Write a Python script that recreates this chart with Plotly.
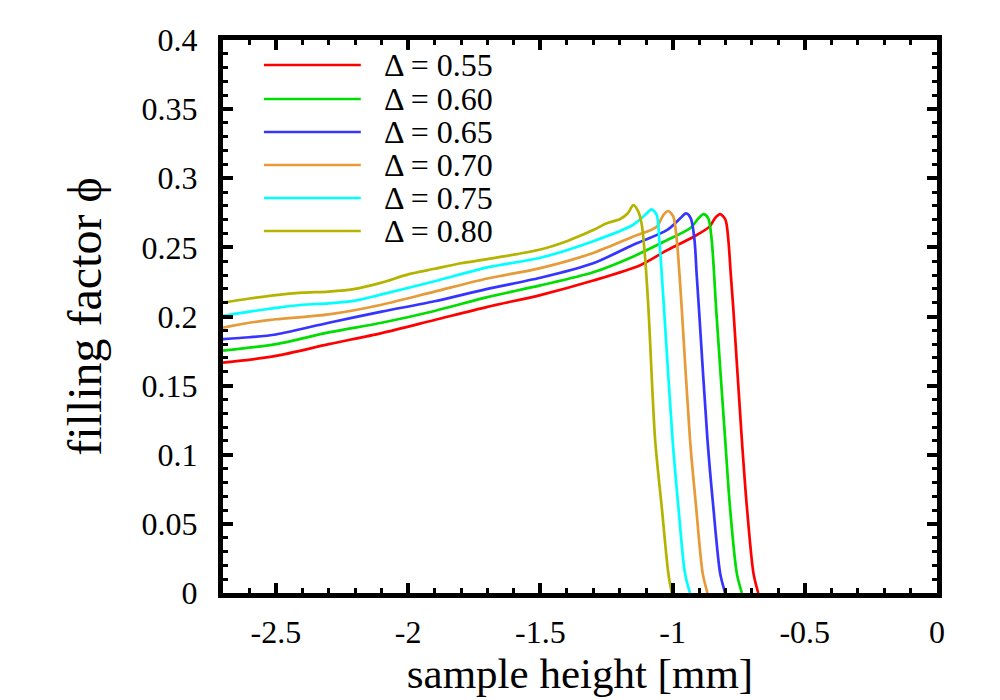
import plotly.graph_objects as go

# filling factor profiles, one per Delta
deltas = ["0.55", "0.60", "0.65", "0.70", "0.75", "0.80"]
colors = ["#ff0000", "#00dd00", "#3535ff", "#e69a38", "#00ffff", "#b4b400"]

x_055 = [-2.7, -2.5, -2.3, -2.1, -1.9, -1.7, -1.5, -1.3, -1.12, -1.02, -0.92, -0.86, -0.84, -0.82,
         -0.80, -0.789, -0.78, -0.77, -0.738, -0.719, -0.694, -0.676]
y_055 = [0.1666, 0.1715, 0.180, 0.188, 0.1975, 0.207, 0.2155, 0.226, 0.2373, 0.248, 0.2577, 0.265,
         0.271, 0.274, 0.270, 0.2553, 0.231, 0.205, 0.111, 0.0624, 0.0142, 0.0]

x_060 = [-2.7, -2.5, -2.3, -2.1, -1.9, -1.7, -1.5, -1.3, -1.15, -1.02, -0.934, -0.902, -0.883,
         -0.865, -0.852, -0.843, -0.835, -0.801, -0.783, -0.757, -0.738]
y_060 = [0.1753, 0.180, 0.1885, 0.1955, 0.204, 0.214, 0.2225, 0.232, 0.2433, 0.2553, 0.2638, 0.271,
         0.274, 0.271, 0.2553, 0.231, 0.205, 0.111, 0.0624, 0.0142, 0.0]

x_065 = [-2.7, -2.6, -2.5, -2.3, -2.1, -1.9, -1.7, -1.5, -1.3, -1.15, -1.02, -0.971, -0.949,
         -0.931, -0.917, -0.909, -0.900, -0.868, -0.846, -0.820, -0.801]
y_065 = [0.1837, 0.185, 0.187, 0.1955, 0.2035, 0.211, 0.220, 0.228, 0.2385, 0.2517, 0.2626, 0.271,
         0.2746, 0.271, 0.2553, 0.231, 0.205, 0.111, 0.0624, 0.0142, 0.0]

x_070 = [-2.7, -2.6, -2.5, -2.3, -2.1, -1.9, -1.7, -1.5, -1.3, -1.15, -1.06, -1.035, -1.016,
         -0.997, -0.984, -0.974, -0.965, -0.934, -0.911, -0.886, -0.868]
y_070 = [0.192, 0.1955, 0.198, 0.2015, 0.2085, 0.218, 0.2275, 0.235, 0.246, 0.2577, 0.265, 0.2734,
         0.2763, 0.2722, 0.2553, 0.231, 0.205, 0.111, 0.0624, 0.0142, 0.0]

x_075 = [-2.7, -2.6, -2.5, -2.4, -2.3, -2.2, -2.1, -1.9, -1.7, -1.5, -1.3, -1.15, -1.104, -1.079,
         -1.06, -1.05, -1.041, -1.032, -1.0, -0.978, -0.953, -0.934]
y_075 = [0.2004, 0.2035, 0.2062, 0.2085, 0.2095, 0.2115, 0.216, 0.2255, 0.2355, 0.2425, 0.2545,
         0.2662, 0.2734, 0.2775, 0.2734, 0.2553, 0.231, 0.205, 0.111, 0.0624, 0.0142, 0.0]

x_080 = [-2.7, -2.6, -2.5, -2.4, -2.3, -2.2, -2.1, -2.0, -1.9, -1.8, -1.7, -1.5, -1.4, -1.3, -1.249,
         -1.198, -1.17, -1.148, -1.13, -1.117, -1.104, -1.091, -1.066, -1.041, -1.016, -1.003]
y_080 = [0.210, 0.213, 0.2155, 0.2172, 0.218, 0.220, 0.2245, 0.2305, 0.2345, 0.2385, 0.2415, 0.2485,
         0.2545, 0.2625, 0.2674, 0.2705, 0.2745, 0.2805, 0.276, 0.267, 0.243, 0.205, 0.111, 0.0624,
         0.0142, 0.0]

xs = [x_055, x_060, x_065, x_070, x_075, x_080]
ys = [y_055, y_060, y_065, y_070, y_075, y_080]

x_ticks = [-2.5, -2, -1.5, -1, -0.5, 0]
x_tick_text = ["-2.5", "-2", "-1.5", "-1", "-0.5", "0"]

FONT = "Liberation Serif"
TICK_FONT_X = "Times New Roman"
TICK_FONT_Y = "serif"

fig = go.Figure()
for d, c, x, y in zip(deltas, colors, xs, ys):
    fig.add_trace(go.Scatter(x=x, y=y, mode="lines", name="\u0394 = " + d,
                             line=dict(color=c, width=2.7, shape="spline", smoothing=0.8)))

# key drawn by hand so the sample lines are long like the original
key_x0, key_x1, key_text_x = 0.0573, 0.193, 0.2224
key_y = [0.9548, 0.8933, 0.8336, 0.7740, 0.7143, 0.6546]
for d, c, ky in zip(deltas, colors, key_y):
    fig.add_shape(type="line", xref="paper", yref="paper", x0=key_x0, x1=key_x1, y0=ky, y1=ky,
                  line=dict(color=c, width=2.7))
    fig.add_annotation(xref="paper", yref="paper", x=key_text_x, y=ky, text="\u0394 = " + d,
                       showarrow=False, xanchor="left", yanchor="middle",
                       font=dict(family=FONT, size=32, color="black", weight="normal"))

axis_common = dict(showgrid=False, zeroline=False, showline=True, linecolor="black", linewidth=5,
                   mirror="allticks", ticks="inside", ticklen=10, tickwidth=3.5, tickcolor="black")

fig.update_xaxes(range=[-2.7, 0], tickvals=x_ticks, ticktext=x_tick_text,
                 tickfont=dict(family=TICK_FONT_X, size=32, color="black"),
                 minor=dict(dtick=0.1, ticks="inside", ticklen=5, tickwidth=3, tickcolor="black"),
                 title=dict(text="sample height [mm]", font=dict(family=FONT, size=43, color="black"),
                            standoff=8),
                 ticklabelstandoff=7, **axis_common)
fig.update_yaxes(range=[0, 0.4], dtick=0.05, tick0=0,
                 tickfont=dict(family=TICK_FONT_Y, size=32, color="black"),
                 minor=dict(dtick=0.01, ticks="inside", ticklen=5, tickwidth=3, tickcolor="black"),
                 title=dict(text="filling factor \u03d5", font=dict(family=FONT, size=48, color="black"),
                            standoff=26),
                 ticklabelstandoff=14, **axis_common)

fig.update_layout(width=992, height=692, showlegend=False,
                  font=dict(family=FONT, color="black"),
                  plot_bgcolor="white", paper_bgcolor="white",
                  margin=dict(l=215, r=63, t=32, b=107, autoexpand=False))

fig.write_html("out.html")
